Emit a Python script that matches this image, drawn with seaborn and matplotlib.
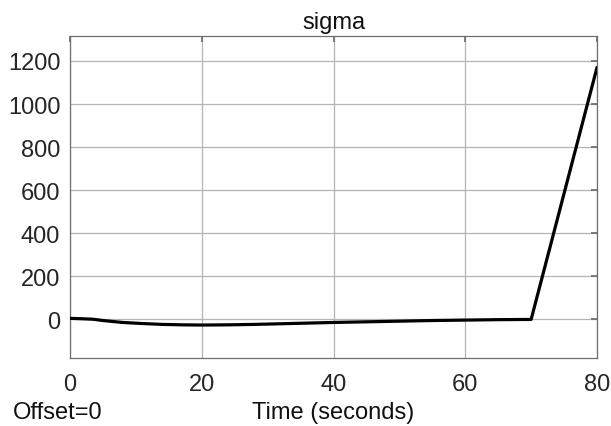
import matplotlib
matplotlib.use("Agg")
import matplotlib.pyplot as plt
import seaborn as sns
import pandas as pd

time_s = [0, 2, 3.5, 5, 8, 11, 14, 17, 20, 24, 28, 32, 36, 40, 45, 50, 55, 60, 65, 70, 80]
sigma = [5, 3, 1, -5, -14, -19, -23, -25, -26, -25, -23, -20, -17, -14, -11, -8, -5, -3, -1, 0, 1170]
x_ticks = [0, 20, 40, 60, 80]
y_ticks = [0, 200, 400, 600, 800, 1000, 1200]

sns.set_theme(style="white")
plt.rcParams['font.family'] = ['Liberation Sans', 'DejaVu Sans']

df = pd.DataFrame({"t": time_s, "sigma": sigma})

fig = plt.figure(figsize=(6.11, 4.27), dpi=100)
ax = fig.add_axes([70/611, 1-359/427, 527/611, 322/427])
sns.lineplot(data=df, x="t", y="sigma", ax=ax, color="black", linewidth=2.3, zorder=5)

ax.set_xlim(0, 80)
ax.set_ylim(-179, 1316)
ax.set_xticks(x_ticks)
ax.set_yticks(y_ticks)
ax.grid(True, color="#b4b4b4", linewidth=0.9)
for s in ax.spines.values():
    s.set_color("#6e6e6e")
    s.set_linewidth(0.9)
ax.tick_params(axis="both", direction="in", length=4, color="#6e6e6e",
               labelsize=17, labelcolor="#262626", top=True, right=True)
ax.tick_params(axis="x", pad=11)
ax.tick_params(axis="y", pad=7)
ax.set_xlabel("")
ax.set_ylabel("")
ax.set_title("sigma", fontsize=17, color="#111111", pad=6)
fig.text(333/611, 1-413/427, "Time (seconds)", ha="center", va="center", fontsize=17, color="#111111")
fig.text(13/611, 1-413/427, "Offset=0", ha="left", va="center", fontsize=17, color="#111111")

fig.savefig("out.png", dpi=100, facecolor="white")
